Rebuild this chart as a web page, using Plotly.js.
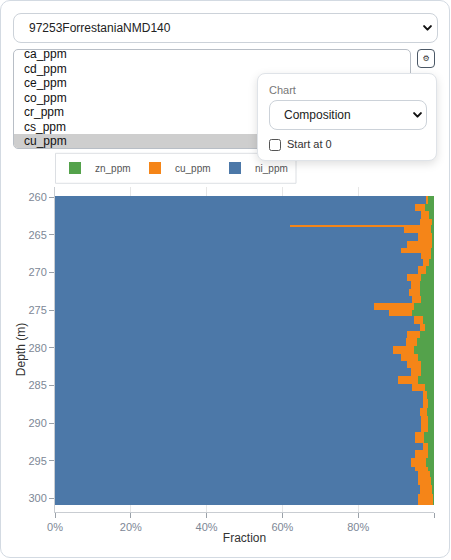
<!DOCTYPE html>
<html>
<head>
<meta charset="utf-8">
<script src="https://cdn.plot.ly/plotly-3.0.1.min.js"></script>
<style>
  html, body { margin:0; padding:0; background:#fff; }
  body { width:451px; height:560px; position:relative; overflow:hidden;
         font-family:"Liberation Sans", Arial, sans-serif; }
  .card { position:absolute; left:0; top:0; width:448px; height:556px;
          border:1px solid #d3dae2; border-radius:10px; }
  select.fs { -webkit-appearance:none; appearance:none; position:absolute;
      font-family:"Liberation Sans", Arial, sans-serif; font-size:12px; color:#222;
      background:#fff url("data:image/svg+xml;utf8,<svg xmlns='http://www.w3.org/2000/svg' width='9' height='6' viewBox='0 0 9 6'><path d='M1.1 1.1 L4.5 4.6 L7.9 1.1' fill='none' stroke='%23111' stroke-width='2' stroke-linecap='round' stroke-linejoin='round'/></svg>") no-repeat;
      border:1px solid #ccd2d9; border-radius:8px; box-sizing:border-box; margin:0; }
  #hole { left:13px; top:13px; width:425px; height:30px; padding-left:15px;
          background-position: right 5px center; }
  .list { position:absolute; left:13px; top:49px; width:398px; height:100px; box-sizing:border-box;
          border:1px solid #b8bec6; border-radius:5px; overflow:hidden; background:#fff; }
  .list .in { margin-top:-3px; }
  .list .opt { height:14.5px; line-height:14.5px; font-size:12px; color:#111; padding-left:10px; }
  .list .opt.sel { background:#cecece; }
  .gear { position:absolute; left:417px; top:49px; width:18px; height:19px; box-sizing:border-box;
          border:1px solid #4b5866; border-radius:4px; font-family:"DejaVu Sans"; font-size:8px;
          line-height:17px; text-align:center; color:#333; background:#fff; }
  .pop { position:absolute; left:257px; top:73px; width:180px; height:88px; box-sizing:border-box;
         background:#fff; border:1px solid #dfe3e8; border-radius:8px;
         box-shadow:0 3px 10px rgba(0,0,0,0.13); z-index:10; }
  .pop .lab { position:absolute; left:11px; top:10px; font-size:11px; color:#777; }
  #ctype { left:11px; top:26px; width:158px; height:30px; padding-left:14px;
           background-position: right 4px center; }
  .pop .cb { position:absolute; left:11px; top:65px; width:12px; height:12px; box-sizing:border-box;
             border:1px solid #555; border-radius:2.5px; }
  .pop .cbl { position:absolute; left:29px; top:64px; font-size:11px; color:#333; }
  #chart { position:absolute; left:0; top:148px; width:451px; height:412px; }
</style>
</head>
<body>
<div class="card"></div>
<select class="fs" id="hole"><option>97253ForrestaniaNMD140</option></select>
<div class="list"><div class="in" id="listIn"></div></div>
<div class="gear">⚙</div>
<div class="pop">
  <div class="lab">Chart</div>
  <select class="fs" id="ctype"><option>Composition</option></select>
  <div class="cb"></div>
  <div class="cbl">Start at 0</div>
</div>
<div id="chart"></div>
<script>
// ---- data ----
const listOptions = ["ca_ppm","cd_ppm","ce_ppm","co_ppm","cr_ppm","cs_ppm","cu_ppm"];
const selectedOption = "cu_ppm";

const depthTop = [259.83, 260.89, 261.82, 262.88, 263.68, 263.90, 264.74, 265.81, 266.74, 267.40,
  268.20, 269.13, 270.19, 271.12, 272.19, 273.12, 274.05, 274.98, 275.78, 276.84,
  277.77, 278.70, 279.77, 280.83, 281.76, 282.69, 283.75, 284.81, 285.74, 286.80,
  288.00, 289.06, 290.12, 291.19, 292.65, 293.58, 294.65, 295.84, 296.37, 297.17,
  298.23, 299.43];
const depthBottom = [260.89, 261.82, 262.88, 263.68, 263.90, 264.74, 265.81, 266.74, 267.40, 268.20,
  269.13, 270.19, 271.12, 272.19, 273.12, 274.05, 274.98, 275.78, 276.84, 277.77,
  278.70, 279.77, 280.83, 281.76, 282.69, 283.75, 284.81, 285.74, 286.80, 288.00,
  289.06, 290.12, 291.19, 292.65, 293.58, 294.65, 295.84, 296.37, 297.17, 298.23,
  299.43, 300.87];
const niFrac = [0.980, 0.951, 0.967, 0.962, 0.619, 0.922, 0.959, 0.928, 0.914, 0.967,
  0.972, 0.957, 0.928, 0.938, 0.933, 0.943, 0.841, 0.880, 0.946, 0.964,
  0.930, 0.925, 0.893, 0.914, 0.930, 0.938, 0.904, 0.943, 0.970, 0.972,
  0.964, 0.967, 0.967, 0.949, 0.972, 0.949, 0.938, 0.951, 0.957, 0.959,
  0.962, 0.957];
const cuFrac = [0.005, 0.026, 0.021, 0.032, 0.372, 0.069, 0.037, 0.068, 0.079, 0.024,
  0.016, 0.023, 0.037, 0.026, 0.029, 0.024, 0.105, 0.063, 0.026, 0.011,
  0.032, 0.029, 0.053, 0.045, 0.037, 0.029, 0.055, 0.032, 0.011, 0.011,
  0.018, 0.016, 0.016, 0.024, 0.011, 0.034, 0.040, 0.034, 0.032, 0.034,
  0.032, 0.040];
const znFrac = [0.015, 0.023, 0.012, 0.006, 0.009, 0.009, 0.004, 0.004, 0.007, 0.009,
  0.012, 0.020, 0.035, 0.036, 0.038, 0.033, 0.054, 0.057, 0.028, 0.025,
  0.038, 0.046, 0.054, 0.041, 0.033, 0.033, 0.041, 0.025, 0.019, 0.017,
  0.018, 0.017, 0.017, 0.027, 0.017, 0.017, 0.022, 0.015, 0.011, 0.007,
  0.006, 0.003];
const xTickVals = [0, 0.2, 0.4, 0.6, 0.8, 1.0];
const xTickText = ["0%", "20%", "40%", "60%", "80%", ""];
const yTickVals = [260, 265, 270, 275, 280, 285, 290, 295, 300];

// ---- list box ----
const listIn = document.getElementById('listIn');
listOptions.forEach(o => {
  const d = document.createElement('div');
  d.className = 'opt' + (o === selectedOption ? ' sel' : '');
  d.textContent = o;
  listIn.appendChild(d);
});

// ---- chart ----
const mids = depthTop.map((t, i) => (t + depthBottom[i]) / 2);
const widths = depthTop.map((t, i) => depthBottom[i] - t);
function tr(name, vals, color) {
  return { type: 'bar', orientation: 'h', name: name, x: vals, y: mids, width: widths,
           marker: { color: color, line: { width: 0 } }, hoverinfo: 'skip' };
}
const data = [
  tr('ni_ppm', niFrac, '#4c78a8'),
  tr('cu_ppm', cuFrac, '#f58518'),
  tr('zn_ppm', znFrac, '#54a24b')
];
const FONT = '"Liberation Sans", Arial, sans-serif';
const layout = {
  width: 451, height: 412,
  margin: { l: 55, r: 17, t: 39, b: 48 },
  paper_bgcolor: 'rgba(0,0,0,0)', plot_bgcolor: '#fff',
  barmode: 'stack',
  font: { family: FONT, size: 11, color: '#333' },
  showlegend: true,
  legend: { orientation: 'h', xref: 'container', yref: 'container',
            x: 55 / 451, xanchor: 'left', y: 1 - 20 / 412, yanchor: 'middle',
            traceorder: 'reversed', borderwidth: 0,
            entrywidth: 35, entrywidthmode: 'pixels',
            font: { family: FONT, size: 10, color: '#555' }, bgcolor: 'rgba(0,0,0,0)' },
  shapes: [{ type: 'rect', xref: 'paper', yref: 'paper',
             x0: 0.0013, x1: 0.6359, y0: 1.0114, y1: 1.1037,
             line: { color: '#dcdfe3', width: 1 }, fillcolor: 'rgba(0,0,0,0)', layer: 'above' }],
  xaxis: { range: [0, 1], tickvals: xTickVals, ticktext: xTickText,
           showgrid: true, gridcolor: '#e6e6e6', zeroline: false,
           showline: true, linecolor: '#c9cdd2', linewidth: 1,
           ticks: 'outside', ticklen: 5, tickcolor: '#9aa1a9',
           tickfont: { family: FONT, size: 11, color: '#7d8796' },
           title: { text: 'Fraction', font: { family: FONT, size: 12, color: '#333' }, standoff: 1 },
           fixedrange: true },
  yaxis: { range: [301.82, 258.63], tickvals: yTickVals,
           showgrid: false, zeroline: false,
           showline: true, linecolor: '#c9cdd2', linewidth: 1,
           ticks: 'outside', ticklen: 5, tickcolor: '#9aa1a9',
           tickfont: { family: FONT, size: 11, color: '#7d8796' },
           title: { text: 'Depth (m)', font: { family: FONT, size: 12, color: '#333' }, standoff: 0 },
           fixedrange: true }
};
Plotly.newPlot('chart', data, layout, { displayModeBar: false, staticPlot: true });
</script>
</body>
</html>
